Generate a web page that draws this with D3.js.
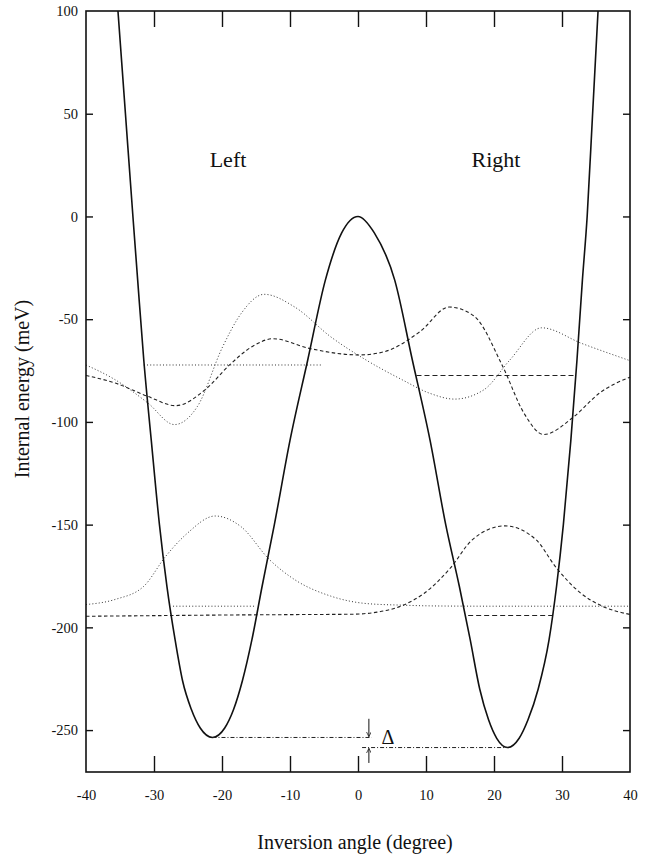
<!DOCTYPE html>
<html>
<head>
<meta charset="utf-8">
<script src="https://cdn.jsdelivr.net/npm/d3@7"></script>
<style>
	body { margin: 0; background: #fff; }
	svg text { font-family: "Liberation Serif", "Tinos", "Times New Roman", "DejaVu Serif", serif; fill: #111; }
</style>
</head>
<body>
<script>
const width = 645, height = 867;
const margin = { top: 11, right: 15, bottom: 95, left: 86 };
const serif = "'Liberation Serif', Tinos, 'Times New Roman', 'DejaVu Serif', serif";

// axis ticks
const xTicks = [-40, -30, -20, -10, 0, 10, 20, 30, 40];
const xInnerTicks = [-30, -20, -10, 0, 10, 20, 30];
const yTicks = [-250, -200, -150, -100, -50, 0, 50, 100];
const yInnerTicks = [-250, -200, -150, -100, -50, 0, 50];

// double well potential [angle, energy]
const potential = [
	[-35.3, 100], [-34.2, 50], [-33.1, 0], [-32.4, -31], [-31.5, -70], [-30.4, -109],
	[-29.2, -150], [-28.1, -180], [-26.9, -206], [-25.8, -226], [-24.5, -240], [-23.2, -249],
	[-21.4, -253.6], [-19.6, -249], [-18.3, -240], [-17.0, -226], [-15.6, -206], [-14.1, -180],
	[-12.3, -150], [-10.0, -109], [-7.4, -70], [-4.8, -31], [-2.4, -8], [0, 0],
	[2.4, -8], [5.4, -31], [8.0, -70], [10.6, -109], [12.9, -150], [14.9, -180], [16.5, -206],
	[17.9, -230], [19.2, -245], [20.4, -254], [22, -258.5], [23.7, -254], [25.0, -245],
	[26.5, -230], [28.1, -206], [29.2, -180], [30.2, -150], [31.3, -109], [32.2, -70],
	[33.0, -31], [33.7, 0], [34.5, 50], [35.3, 100]
];

// ground state pair
const groundLeft = [
	[-40, -188.9], [-35.7, -186.4], [-31.5, -180], [-28.3, -165.5], [-25.1, -154.2],
	[-21, -145.8], [-17.2, -151], [-13, -167.1], [-9.3, -176.8], [-4, -184.8],
	[1.2, -188.4], [6.5, -189.2], [12, -189.6], [20, -189.7], [30, -189.7], [40, -189.7]
];
const groundRight = [
	[-40, -194.6], [-30, -194.3], [-20, -194], [-10, -193.8], [-0.9, -193.6], [2.8, -192.6],
	[6.5, -189.4], [9.7, -183.5], [13.6, -171.1], [16.8, -157.4], [21.6, -150.6], [26.2, -157.4],
	[29, -170.3], [32.7, -183.2], [36, -189.8], [40, -193.7]
];

// first excited pair
const excitedLeft = [
	[-40, -72.3], [-35.7, -79.5], [-30.9, -90.8], [-27, -101.3], [-23.6, -92.4],
	[-19.9, -63.4], [-17.2, -47.3], [-13.8, -37.9], [-9.3, -44.1], [-4, -58.6],
	[1.2, -69.9], [6.5, -79.5], [10.5, -86], [14.2, -88.9], [18.5, -84.4], [22.3, -70],
	[27, -54.2], [32.9, -61.8], [40, -70.2]
];
const excitedRight = [
	[-40, -77.4], [-35.7, -81.1], [-30.9, -87.6], [-26.8, -92.1], [-22.5, -84.4],
	[-18.8, -72], [-15.6, -63.4], [-12.5, -59.5], [-7.2, -64.2], [0.2, -67.4],
	[3.9, -65.8], [9.1, -56.1], [13.4, -44.1], [17, -48.3], [21.3, -73.1], [24.4, -95.7],
	[27.3, -106.1], [31.8, -97.3], [35.5, -86], [40, -78.2]
];

// energy levels between turning points
const levelGroundLeft = [[-27.2, -189.7], [-15.2, -189.7]];
const levelGroundRight = [[16.2, -194.2], [28.6, -194.2]];
const levelExcitedLeft = [[-31.5, -72.3], [-5.2, -72.3]];
const levelExcitedRight = [[8.6, -77.4], [32.1, -77.4]];

// splitting annotation
const deltaUpper = [[-21.4, -253.6], [2.0, -253.6]];
const deltaLower = [[0.6, -258.5], [22, -258.5]];
const arrowDown = [[1.6, -244.5], [1.6, -253.2]];
const arrowUp = [[1.6, -266], [1.6, -258.9]];

const x = d3.scaleLinear().domain([-40, 40]).range([margin.left, width - margin.right]);
const y = d3.scaleLinear().domain([-270.4, 100]).range([height - margin.bottom, margin.top]);

const svg = d3.select("body").append("svg")
	.attr("width", width)
	.attr("height", height);

svg.append("defs").selectAll("marker")
	.data(["arrow"])
	.enter()
	.append("marker")
	.attr("id", String)
	.attr("viewBox", "0 -5 10 10")
	.attr("refX", 10)
	.attr("refY", 0)
	.attr("markerWidth", 5)
	.attr("markerHeight", 5)
	.attr("markerUnits", "userSpaceOnUse")
	.attr("orient", "auto")
	.append("path")
	.attr("d", "M0,-5L10,0L0,5")
	.attr("fill", "none")
	.attr("stroke", "#111")
	.attr("stroke-width", 1.5);

const line = d3.line().x(d => x(d[0])).y(d => y(d[1]));
const smooth = d3.line().x(d => x(d[0])).y(d => y(d[1])).curve(d3.curveMonotoneX);

const plot = svg.append("g").attr("fill", "none");

const dotted = "1,2.2", dashed = "3.5,2.5", dashDot = "4,2,1,2";

// wavefunctions and levels
plot.append("path").datum(groundLeft).attr("d", smooth)
	.attr("stroke", "#333").attr("stroke-width", 1).attr("stroke-dasharray", dotted);
plot.append("path").datum(groundRight).attr("d", smooth)
	.attr("stroke", "#222").attr("stroke-width", 1.1).attr("stroke-dasharray", dashed);
plot.append("path").datum(excitedLeft).attr("d", smooth)
	.attr("stroke", "#333").attr("stroke-width", 1).attr("stroke-dasharray", dotted);
plot.append("path").datum(excitedRight).attr("d", smooth)
	.attr("stroke", "#222").attr("stroke-width", 1.1).attr("stroke-dasharray", dashed);

plot.append("path").datum(levelGroundLeft).attr("d", line)
	.attr("stroke", "#333").attr("stroke-width", 1).attr("stroke-dasharray", dotted);
plot.append("path").datum(levelExcitedLeft).attr("d", line)
	.attr("stroke", "#333").attr("stroke-width", 1).attr("stroke-dasharray", dotted);
plot.append("path").datum(levelGroundRight).attr("d", line)
	.attr("stroke", "#222").attr("stroke-width", 1.1).attr("stroke-dasharray", "5,3");
plot.append("path").datum(levelExcitedRight).attr("d", line)
	.attr("stroke", "#222").attr("stroke-width", 1.1).attr("stroke-dasharray", "5,3");

// potential
plot.append("path").datum(potential).attr("d", smooth)
	.attr("stroke", "#111").attr("stroke-width", 1.6);

// delta annotation
plot.append("path").datum(deltaUpper).attr("d", line)
	.attr("stroke", "#222").attr("stroke-width", 1).attr("stroke-dasharray", dashDot);
plot.append("path").datum(deltaLower).attr("d", line)
	.attr("stroke", "#222").attr("stroke-width", 1).attr("stroke-dasharray", dashDot);
[arrowDown, arrowUp].forEach(a => {
	plot.append("path").datum(a).attr("d", line)
		.attr("stroke", "#111").attr("stroke-width", 1)
		.attr("marker-end", "url(#arrow)");
});
svg.append("text")
	.attr("x", x(4.4)).attr("y", y(-253.2))
	.attr("dy", "0.35em")
	.attr("text-anchor", "middle")
	.style("font-family", serif)
	.style("font-size", "20px")
	.text("\u0394");

// frame
svg.append("rect")
	.attr("x", x(-40)).attr("y", y(100))
	.attr("width", x(40) - x(-40)).attr("height", y(-270.4) - y(100))
	.attr("fill", "none").attr("stroke", "#111").attr("stroke-width", 1.6);

// axes
const xLabels = svg.append("g")
	.attr("transform", `translate(0,${y(-270.4)})`)
	.call(d3.axisBottom(x).tickValues(xTicks).tickSize(0).tickPadding(18).tickFormat(d => String(d)));
const xIn = svg.append("g")
	.attr("transform", `translate(0,${y(-270.4)})`)
	.call(d3.axisBottom(x).tickValues(xInnerTicks).tickSize(-16).tickFormat(""));
const xTop = svg.append("g")
	.attr("transform", `translate(0,${y(100)})`)
	.call(d3.axisTop(x).tickValues(xInnerTicks).tickSize(-16).tickFormat(""));
const yLabels = svg.append("g")
	.attr("transform", `translate(${x(-40)},0)`)
	.call(d3.axisLeft(y).tickValues(yTicks).tickSize(0).tickPadding(8).tickFormat(d => String(d)));
const yIn = svg.append("g")
	.attr("transform", `translate(${x(-40)},0)`)
	.call(d3.axisLeft(y).tickValues(yInnerTicks).tickSize(-7).tickFormat(""));
const yRight = svg.append("g")
	.attr("transform", `translate(${x(40)},0)`)
	.call(d3.axisRight(y).tickValues(yInnerTicks).tickSize(-7).tickFormat(""));

[xLabels, xIn, xTop, yLabels, yIn, yRight].forEach(g => {
	g.attr("font-family", serif);
	g.select(".domain").remove();
	g.selectAll("line").attr("stroke", "#111").attr("stroke-width", 1.4);
	g.selectAll("text")
		.style("font-family", serif)
		.style("font-size", "14.5px")
		.attr("fill", "#111");
});

// labels
svg.append("text")
	.attr("x", 228).attr("y", 167)
	.attr("text-anchor", "middle")
	.style("font-family", serif)
	.style("font-size", "22px")
	.text("Left");
svg.append("text")
	.attr("x", 496).attr("y", 167)
	.attr("text-anchor", "middle")
	.style("font-family", serif)
	.style("font-size", "22px")
	.text("Right");

svg.append("text")
	.attr("x", 355).attr("y", 849)
	.attr("text-anchor", "middle")
	.style("font-family", serif)
	.style("font-size", "20px")
	.text("Inversion angle (degree)");
svg.append("text")
	.attr("transform", "translate(29,389) rotate(-90)")
	.attr("text-anchor", "middle")
	.style("font-family", serif)
	.style("font-size", "20px")
	.text("Internal energy (meV)");
</script>
</body>
</html>
